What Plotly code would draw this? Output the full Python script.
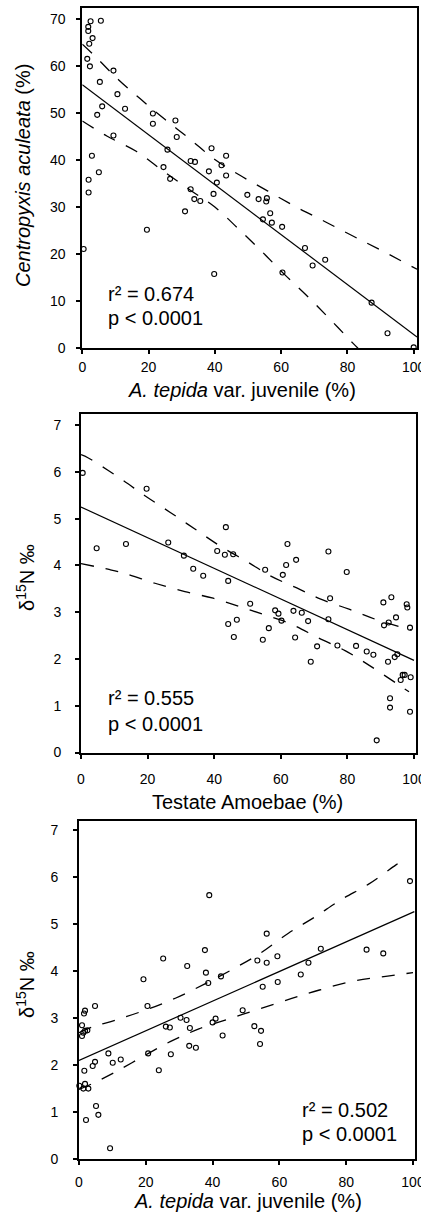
import plotly.graph_objects as go

# ---------------- data ----------------
# Panel 1: Centropyxis aculeata (%) vs A. tepida var. juvenile (%)
p1_x = [2.5, 5.6, 1.8, 1.8, 3.1, 2.1, 1.5, 2.3, 5.3, 9.4, 10.6, 6.0, 4.5, 12.9, 21.3, 21.3, 28.1, 28.5, 9.4, 25.7,
        2.9, 5.0, 1.9, 1.9, 24.5, 26.5, 32.7, 34.0, 39.0, 43.4, 42.0, 38.2, 43.4, 40.6, 32.7, 33.8, 35.6, 31.0, 39.6, 0.4,
        19.5, 39.8, 49.8, 53.2, 55.7, 55.5, 56.7, 54.5, 57.2, 60.3, 67.2, 73.3, 69.5, 60.4, 87.3, 92.1, 100.0]
p1_y = [69.5, 69.6, 68.3, 67.4, 65.9, 64.7, 61.5, 59.9, 56.6, 59.0, 54.0, 51.4, 49.6, 50.9, 49.9, 47.7, 48.4, 44.9, 45.2, 42.2,
        40.9, 37.4, 35.8, 33.1, 38.5, 36.0, 39.8, 39.6, 42.5, 40.9, 38.9, 37.6, 36.7, 35.2, 33.8, 31.7, 31.3, 29.1, 32.8, 21.1,
        25.2, 15.8, 32.6, 31.7, 31.9, 31.2, 28.7, 27.4, 26.7, 25.8, 21.3, 18.8, 17.6, 16.1, 9.7, 3.2, 0.2]
p1_fit_x = [0, 101]
p1_fit_y = [56.0, 2.4]
p1_up_x = [0, 3.5, 11, 17.5, 25, 32.4, 40, 47.7, 56, 64.6, 73, 81.8, 90.5, 101]
p1_up_y = [64.6, 62.3, 57.0, 53.0, 48.6, 44.5, 40.1, 36.7, 33.4, 30.0, 27.0, 23.8, 20.7, 16.8]
p1_lo_x = [0, 7.4, 16.4, 24.5, 32.4, 40, 47.4, 54, 61, 68, 75, 81.5, 83.2]
p1_lo_y = [48.3, 45.1, 41.8, 37.6, 33.7, 30.0, 25.2, 20.7, 15.7, 11.0, 6.0, 1.2, 0.0]

# Panel 2: d15N vs Testate Amoebae (%)
p2_x = [0.5, 4.7, 13.5, 19.7, 26.2, 30.9, 33.7, 36.7, 40.9, 43.2, 43.5, 45.7, 44.2, 50.8, 55.3, 60.6, 61.6, 62.0, 64.6, 74.3,
        79.8, 74.8, 90.8, 93.2, 97.8, 98.0, 94.6, 92.4, 91.0, 98.8, 58.3, 59.3, 60.2, 63.8, 66.3, 68.2, 74.3, 56.4, 54.6, 64.3,
        70.9, 69.0, 77.0, 82.6, 85.8, 87.8, 92.2, 94.2, 95.0, 96.0, 96.6, 97.2, 99.0, 92.8, 92.8, 98.8, 88.8, 44.2, 46.8, 45.9]
p2_y = [5.98, 4.37, 4.46, 5.64, 4.49, 4.21, 3.93, 3.78, 4.31, 4.23, 4.82, 4.24, 3.67, 3.18, 3.91, 3.80, 4.01, 4.46, 4.12, 4.30,
        3.86, 3.30, 3.21, 3.32, 3.17, 3.10, 2.89, 2.78, 2.72, 2.67, 3.04, 2.97, 2.82, 3.03, 2.99, 2.81, 2.85, 2.66, 2.41, 2.46,
        2.27, 1.94, 2.29, 2.28, 2.16, 2.09, 1.94, 2.04, 2.10, 1.55, 1.66, 1.66, 1.61, 1.16, 0.96, 0.87, 0.26, 2.75, 2.84, 2.47]
p2_fit_x = [0, 100]
p2_fit_y = [5.25, 1.97]
p2_up_x = [0, 2.2, 12.2, 19.2, 26.7, 34.2, 41.7, 49.7, 56.8, 64.8, 72, 80.7, 88.8, 99.3]
p2_up_y = [6.37, 6.30, 5.84, 5.49, 5.14, 4.78, 4.42, 4.09, 3.78, 3.52, 3.28, 3.06, 2.84, 2.62]
p2_lo_x = [0, 8.7, 13.7, 22.2, 31.2, 39.7, 47.7, 55.3, 63.3, 71.3, 79.3, 87.5, 97, 98.5]
p2_lo_y = [4.04, 3.91, 3.82, 3.62, 3.44, 3.30, 3.12, 2.94, 2.74, 2.45, 2.18, 1.82, 1.37, 1.30]

# Panel 3: d15N vs A. tepida var. juvenile (%)
p3_x = [99.1, 39.0, 56.2, 37.7, 25.2, 86.1, 91.1, 72.4, 32.4, 53.4, 56.2, 59.4, 68.7, 38.0, 38.7, 42.5, 66.4, 55.0, 59.5, 19.3,
        20.5, 4.8, 1.8, 1.5, 49.0, 0.9, 1.8, 1.3, 0.9, 2.5, 26.0, 27.2, 30.4, 32.2, 33.2, 40.9, 40.0, 43.0, 52.5, 54.5,
        54.2, 33.0, 35.0, 27.5, 20.7, 23.9, 8.8, 12.5, 10.1, 4.8, 4.1, 1.6, 0.1, 1.8, 1.3, 2.8, 5.1, 5.8, 2.1, 9.3]
p3_y = [5.92, 5.62, 4.80, 4.45, 4.27, 4.46, 4.38, 4.48, 4.11, 4.23, 4.18, 4.32, 4.18, 3.97, 3.75, 3.89, 3.93, 3.67, 3.77, 3.83,
        3.26, 3.26, 3.16, 3.10, 3.17, 2.85, 2.73, 2.69, 2.62, 2.74, 2.82, 2.80, 3.01, 2.96, 2.79, 2.99, 2.91, 2.63, 2.83, 2.73,
        2.45, 2.41, 2.37, 2.23, 2.25, 1.89, 2.25, 2.12, 2.05, 2.07, 1.98, 1.88, 1.56, 1.60, 1.50, 1.50, 1.13, 0.94, 0.83, 0.23]
p3_fit_x = [0, 100.4]
p3_fit_y = [2.10, 5.27]
p3_up_x = [0, 4.3, 11, 20.2, 29, 37.7, 46.2, 54, 62.7, 70.5, 78.6, 86.6, 94.8, 98]
p3_up_y = [2.69, 2.82, 2.96, 3.18, 3.43, 3.73, 4.05, 4.37, 4.81, 5.15, 5.53, 5.85, 6.26, 6.42]
p3_lo_x = [0, 3.8, 10.3, 18.8, 27.3, 35.9, 45.1, 54.1, 63.7, 72, 81.6, 90.6, 100]
p3_lo_y = [1.48, 1.60, 1.83, 2.17, 2.50, 2.77, 2.99, 3.20, 3.42, 3.60, 3.78, 3.88, 3.97]

x_ticks = [0, 20, 40, 60, 80, 100]
p1_y_ticks = [0, 10, 20, 30, 40, 50, 60, 70]
d15_ticks = [0, 1, 2, 3, 4, 5, 6, 7]

r2_texts = ["0.674", "0.555", "0.502"]
p_text = "p < 0.0001"
title_p1_y = "<i>Centropyxis aculeata</i> (%)"
title_d15 = "δ<sup>15</sup>N ‰"
title_tepida = "<i>A. tepida</i> var. juvenile (%)"
title_testate = "Testate Amoebae (%)"

# ---------------- figure ----------------
W, H = 421, 1213
FONT = "Liberation Sans, Arial, sans-serif"
DASH = "13px,12px"

fig = go.Figure()

panels = [
    (p1_x, p1_y, p1_fit_x, p1_fit_y, p1_up_x, p1_up_y, p1_lo_x, p1_lo_y, "x", "y"),
    (p2_x, p2_y, p2_fit_x, p2_fit_y, p2_up_x, p2_up_y, p2_lo_x, p2_lo_y, "x2", "y2"),
    (p3_x, p3_y, p3_fit_x, p3_fit_y, p3_up_x, p3_up_y, p3_lo_x, p3_lo_y, "x3", "y3"),
]
for (px, py, fx, fy, ux, uy, lx, ly, xa, ya) in panels:
    fig.add_trace(go.Scatter(x=ux, y=uy, mode="lines", line=dict(color="black", width=1.3, dash=DASH, shape="spline"),
                             xaxis=xa, yaxis=ya, showlegend=False, hoverinfo="skip"))
    fig.add_trace(go.Scatter(x=lx, y=ly, mode="lines", line=dict(color="black", width=1.3, dash=DASH, shape="spline"),
                             xaxis=xa, yaxis=ya, showlegend=False, hoverinfo="skip"))
    fig.add_trace(go.Scatter(x=fx, y=fy, mode="lines", line=dict(color="black", width=1.2),
                             xaxis=xa, yaxis=ya, showlegend=False))
    fig.add_trace(go.Scatter(x=px, y=py, mode="markers", cliponaxis=False,
                             marker=dict(symbol="circle-open", size=5, color="black", line=dict(width=1.1, color="black")),
                             xaxis=xa, yaxis=ya, showlegend=False))

def px2paper_x(p):
    return p / W

def px2paper_y(p):
    return 1 - p / H

# domains in pixels: (left, right, top, bottom)
dom = [(82.3, 417, 8, 348.3), (81, 416, 414, 752.5), (79, 415, 821, 1159)]
yranges = [[0, 72.3], [0, 7.24], [0, 7.2]]
xranges = [[0, 101], [0, 100.6], [0, 100.6]]
ytickvals = [p1_y_ticks, d15_ticks, d15_ticks]
ystand = [8, 11, 12]
xstand = [1, 9, 5]

axis_common = dict(showgrid=False, zeroline=False, showline=True, linecolor="black", linewidth=2, mirror=True,
                   ticks="outside", ticklen=4, tickwidth=1.5, tickcolor="black", automargin=False,
                   ticklabeloverflow="allow",
                   tickfont=dict(family=FONT, size=14, color="black"), fixedrange=True)
layout = {}
for i, (l, r, t, b) in enumerate(dom):
    sfx = "" if i == 0 else str(i + 1)
    layout["xaxis" + sfx] = dict(axis_common, domain=[px2paper_x(l), px2paper_x(r)], range=xranges[i],
                                 tickvals=x_ticks, anchor="y" + sfx, ticklabelstandoff=xstand[i])
    layout["yaxis" + sfx] = dict(axis_common, domain=[px2paper_y(b), px2paper_y(t)], range=yranges[i],
                                 tickvals=ytickvals[i], anchor="x" + sfx, ticklabelstandoff=ystand[i])

annos = []
def add_text(text, x, y, size=20, xanchor="left", angle=0):
    annos.append(dict(text=text, x=px2paper_x(x), y=px2paper_y(y), xref="paper", yref="paper",
                      showarrow=False, xanchor=xanchor, yanchor="middle", textangle=angle,
                      font=dict(family=FONT, size=size, color="black")))

# stats
add_text("r² = " + r2_texts[0], 106, 294)
add_text(p_text, 106, 318)
add_text("r² = " + r2_texts[1], 106, 698)
add_text(p_text, 106, 724)
add_text("r² = " + r2_texts[2], 300, 1110)
add_text(p_text, 300, 1134)

# axis titles
add_text(title_tepida, 242, 390, xanchor="center")
add_text(title_testate, 248, 802, xanchor="center")
add_text(title_tepida, 248, 1201, xanchor="center")
add_text(title_p1_y, 23, 176, xanchor="center", angle=-90)
add_text(title_d15, 25, 578, xanchor="center", angle=-90)
add_text(title_d15, 25, 985, xanchor="center", angle=-90)

fig.update_layout(**layout)
fig.update_layout(width=W, height=H, margin=dict(l=0, r=0, t=0, b=0), paper_bgcolor="white", plot_bgcolor="white",
                  annotations=annos, showlegend=False, font=dict(family=FONT, color="black"))

fig.write_html("out.html", config={"displayModeBar": False},
               post_script="document.body.style.margin='0px';document.body.style.overflow='hidden';")
